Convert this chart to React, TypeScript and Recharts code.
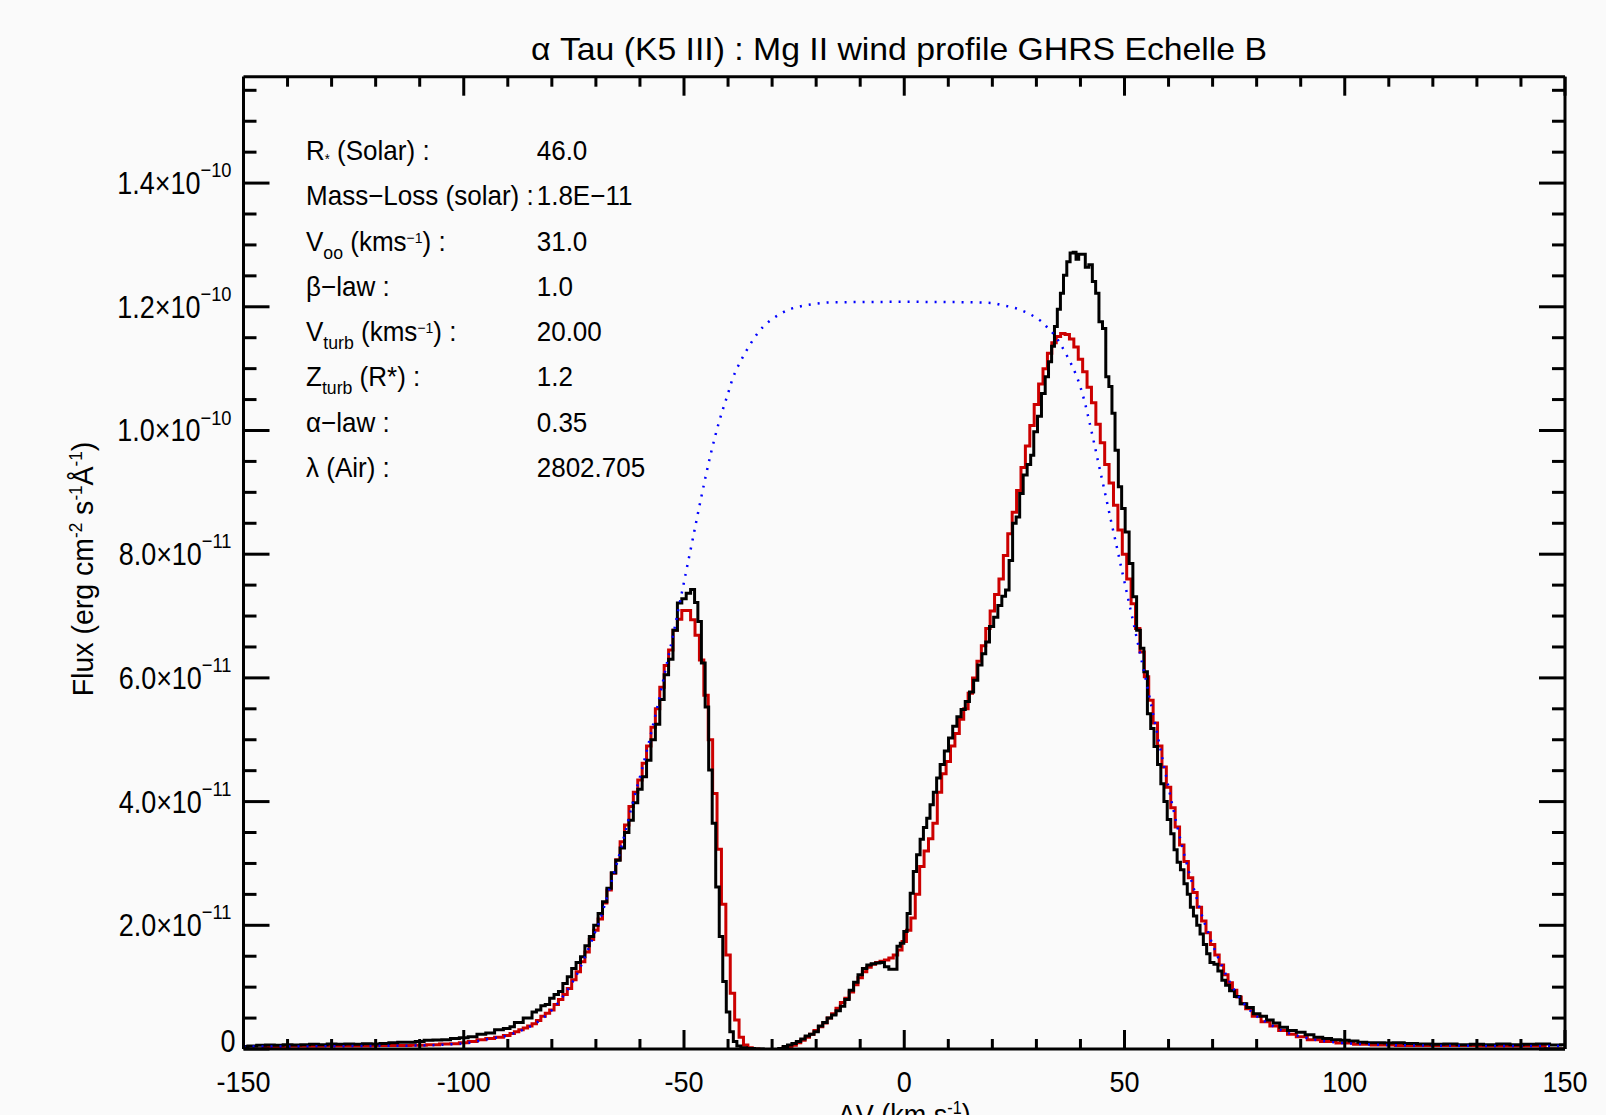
import React from "react";
import { LineChart, Line, XAxis, YAxis } from "recharts";

const FONT = "'Liberation Sans', Arial, Helvetica, sans-serif";
const W = 1606;
const H = 1115;
// frame of the plot in page pixels
const PLOT = { left: 243.5, right: 1565, top: 76.7, bottom: 1049 };
// flux is kept in units of 1e-11 erg cm-2 s-1 A-1
const Y_TOP = 15.72;
const AXIS_SIZE = 1; // axes need a non-zero box to be drawn

const X_MAJOR = [-150, -100, -50, 0, 50, 100, 150];
const X_MINOR = [-140, -130, -120, -110, -90, -80, -70, -60, -40, -30, -20, -10, 10, 20, 30, 40, 60, 70, 80, 90, 110, 120, 130, 140];
const Y_MAJOR = [0, 2, 4, 6, 8, 10, 12, 14];
const Y_MINOR = [0.5, 1, 1.5, 2.5, 3, 3.5, 4.5, 5, 5.5, 6.5, 7, 7.5, 8.5, 9, 9.5, 10.5, 11, 11.5, 12.5, 13, 13.5, 14.5, 15, 15.5];

const TITLE = "α Tau (K5 III) : Mg II wind profile GHRS Echelle B";
const PARAM_VALUES = ["46.0", "1.8E−11", "31.0", "1.0", "20.00", "1.2", "0.35", "2802.705"];

// observed GHRS profile [dV km/s, flux 1e-11]
const OBSERVED: [number, number][] = [
  [-150, 0.04], [-148, 0.05], [-146, 0.06], [-144, 0.065], [-142, 0.06], [-140, 0.07], [-138, 0.065], [-136, 0.07],
  [-134, 0.075], [-132, 0.07], [-130, 0.08], [-128, 0.075], [-126, 0.08], [-124, 0.075], [-122, 0.085], [-120, 0.08],
  [-118, 0.09], [-116, 0.1], [-114, 0.11], [-112, 0.11], [-110, 0.12], [-108, 0.14], [-106, 0.145], [-104, 0.15],
  [-102, 0.17], [-100, 0.18], [-98, 0.2], [-96, 0.24], [-94, 0.26], [-92, 0.31], [-90, 0.33], [-89, 0.36],
  [-88, 0.43], [-87, 0.43], [-86, 0.5], [-85, 0.5], [-84, 0.6], [-83, 0.63], [-82, 0.7], [-81, 0.72],
  [-80, 0.82], [-79, 0.88], [-78, 0.93], [-77, 1.06], [-76, 1.17], [-75, 1.3], [-74, 1.4], [-73, 1.49],
  [-72, 1.67], [-71, 1.82], [-70, 2.0], [-69, 2.19], [-68, 2.38], [-67, 2.6], [-66, 2.85], [-65, 3.05],
  [-64, 3.25], [-63, 3.5], [-62, 3.7], [-61, 3.98], [-60, 4.2], [-59, 4.4], [-58, 4.67], [-57, 5.0],
  [-56, 5.25], [-55, 5.65], [-54, 6.05], [-53, 6.3], [-52, 6.77], [-51, 7.21], [-50, 7.28], [-49, 7.37],
  [-48, 7.43], [-47.2, 7.22], [-46.5, 6.91], [-45.6, 6.24], [-44.8, 5.53], [-44, 4.51], [-43.2, 3.65], [-42.4, 2.62],
  [-41.6, 1.82], [-40.8, 1.09], [-40, 0.6], [-39.2, 0.28], [-38.4, 0.12], [-37.6, 0.05], [-36.6, 0.02], [-35, 0.01],
  [-33, 0], [-31, -0.02], [-29, -0.02], [-28, 0.01], [-27, 0.04], [-26, 0.065], [-25, 0.09], [-24, 0.12],
  [-23, 0.16], [-22, 0.21], [-21, 0.24], [-20, 0.28], [-19, 0.37], [-18, 0.43], [-17, 0.5], [-16, 0.55],
  [-15, 0.62], [-14, 0.69], [-13, 0.8], [-12, 0.95], [-11, 1.08], [-10, 1.2], [-9, 1.3], [-8, 1.36],
  [-7, 1.38], [-6, 1.39], [-5, 1.4], [-4, 1.33], [-3, 1.29], [-2, 1.29], [-1.3, 1.66], [-0.5, 1.71],
  [0.3, 1.9], [1, 2.19], [1.7, 2.52], [2.4, 2.87], [3.2, 3.14], [4, 3.39], [4.7, 3.58], [5.5, 3.73],
  [6.2, 3.95], [7, 4.15], [7.7, 4.38], [8.6, 4.6], [9.6, 4.82], [10.5, 5.03], [11.5, 5.22], [12.4, 5.37],
  [13.4, 5.49], [14.3, 5.62], [15.3, 5.77], [16.2, 5.96], [17.2, 6.21], [18.1, 6.39], [18.9, 6.58], [19.8, 6.83],
  [20.8, 6.98], [21.7, 7.17], [22.6, 7.32], [23.4, 7.42], [24.2, 7.9], [25, 8.5], [25.8, 8.6], [26.6, 8.98],
  [27.4, 9.28], [28.4, 9.45], [29, 9.6], [29.8, 9.98], [30.7, 10.23], [31.6, 10.6], [32.4, 10.87], [33.1, 11.11],
  [33.8, 11.36], [34.4, 11.68], [35.1, 11.96], [35.8, 12.22], [36.5, 12.51], [37.3, 12.73], [38, 12.87], [38.7, 12.88],
  [39.3, 12.77], [39.9, 12.85], [40.7, 12.85], [41.5, 12.64], [42.3, 12.68], [43.1, 12.41], [43.8, 12.22], [44.6, 11.76],
  [45.4, 11.65], [46.1, 10.87], [46.8, 10.71], [47.5, 10.28], [48.2, 9.68], [49, 9.09], [49.7, 8.74], [50.6, 8.36],
  [51.5, 7.85], [52.3, 7.31], [53.2, 6.77], [54, 6.48], [54.8, 6.1], [55.6, 5.42], [56.3, 5.18], [57.1, 4.89],
  [57.9, 4.6], [58.6, 4.29], [59.3, 4.0], [60.1, 3.71], [60.9, 3.48], [61.6, 3.22], [62.3, 3.02], [63.1, 2.9],
  [63.9, 2.67], [64.6, 2.5], [65.3, 2.29], [66, 2.15], [66.8, 2.0], [67.5, 1.86], [68.3, 1.69], [69, 1.54],
  [69.8, 1.4], [70.8, 1.37], [71.6, 1.26], [72.6, 1.11], [73.3, 1.03], [74.4, 0.94], [75.5, 0.85], [77, 0.73],
  [78.5, 0.67], [80, 0.57], [81.5, 0.53], [83, 0.47], [84.5, 0.42], [86, 0.35], [88, 0.3], [90, 0.27],
  [92, 0.23], [94, 0.19], [96, 0.17], [98, 0.15], [100, 0.14], [102, 0.13], [104, 0.11], [106, 0.1],
  [108, 0.1], [110, 0.095], [112, 0.1], [115, 0.09], [118, 0.08], [121, 0.075], [124, 0.08], [127, 0.07],
  [130, 0.075], [133, 0.07], [136, 0.08], [139, 0.07], [142, 0.075], [145, 0.08], [148, 0.065], [150, 0.07],
];

// wind model profile (red)
const MODEL: [number, number][] = [
  [-150, 0], [-148, 0], [-146, 0], [-145, 0.04], [-142, 0.04], [-138, 0.045], [-134, 0.045], [-130, 0.05],
  [-126, 0.05], [-122, 0.05], [-118, 0.055], [-114, 0.055], [-110, 0.06], [-107, 0.07], [-104, 0.08], [-102, 0.085],
  [-100, 0.1], [-98, 0.12], [-96, 0.15], [-94, 0.17], [-92, 0.19], [-90, 0.22], [-89, 0.25], [-88, 0.28],
  [-87, 0.31], [-86, 0.34], [-85, 0.37], [-84, 0.41], [-83, 0.46], [-82, 0.53], [-81, 0.58], [-80, 0.63],
  [-79, 0.72], [-78, 0.8], [-77, 0.88], [-76, 0.98], [-75, 1.12], [-74, 1.25], [-73, 1.41], [-72, 1.57],
  [-71, 1.77], [-70, 1.92], [-69, 2.1], [-68, 2.36], [-67, 2.57], [-66, 2.84], [-65, 3.06], [-64, 3.35],
  [-63, 3.62], [-62, 3.92], [-61, 4.15], [-60, 4.35], [-59, 4.62], [-58, 4.9], [-57, 5.2], [-56, 5.5],
  [-55, 5.85], [-54, 6.2], [-53, 6.45], [-52, 6.77], [-51, 6.95], [-50, 7.09], [-49, 7.09], [-48, 6.94],
  [-47, 6.69], [-46, 6.29], [-45, 5.72], [-44, 5.0], [-43, 4.13], [-42, 3.23], [-41, 2.34], [-40, 1.52],
  [-39, 0.9], [-38, 0.47], [-37, 0.19], [-36, 0.065], [-35, 0.02], [-34, 0], [-32, -0.01], [-30, -0.015],
  [-28, -0.01], [-27, 0.02], [-26, 0.03], [-25, 0.06], [-24, 0.1], [-23, 0.14], [-22, 0.19], [-21, 0.24],
  [-20, 0.3], [-19, 0.36], [-18, 0.42], [-17, 0.5], [-16, 0.57], [-15, 0.66], [-14, 0.75], [-13, 0.82],
  [-12, 0.92], [-11, 1.04], [-10, 1.15], [-9, 1.25], [-8, 1.32], [-7, 1.37], [-6, 1.4], [-5, 1.42],
  [-4, 1.44], [-3, 1.47], [-2, 1.52], [-1, 1.6], [0, 1.74], [1, 1.92], [2, 2.12], [3, 2.5],
  [4, 2.95], [5, 3.2], [6, 3.4], [7, 3.65], [8, 4.15], [9, 4.45], [10, 4.65], [11, 4.9],
  [12, 5.1], [13, 5.33], [14, 5.5], [15, 5.75], [16, 6.0], [17, 6.27], [18, 6.52], [19, 6.8],
  [20, 7.08], [21, 7.35], [22, 7.6], [23, 7.98], [24, 8.33], [25, 8.68], [26, 9.03], [27, 9.4],
  [28, 9.75], [29, 10.08], [30, 10.42], [31, 10.75], [32, 11.0], [33, 11.25], [34, 11.42], [35, 11.52],
  [36, 11.57], [37, 11.55], [38, 11.48], [39, 11.35], [40, 11.15], [41, 10.95], [42, 10.7], [43, 10.45],
  [44, 10.1], [45, 9.8], [46, 9.45], [47, 9.15], [48, 8.79], [49, 8.39], [50, 8.0], [51, 7.6],
  [52, 7.2], [53, 6.8], [54, 6.42], [55, 6.02], [56, 5.64], [57, 5.27], [58, 4.9], [59, 4.56],
  [60, 4.23], [61, 3.9], [62, 3.59], [63, 3.3], [64, 3.03], [65, 2.77], [66, 2.53], [67, 2.29],
  [68, 2.07], [69, 1.88], [70, 1.69], [71, 1.52], [72, 1.36], [73, 1.2], [74, 1.07], [75, 0.95],
  [76, 0.84], [77, 0.73], [78, 0.65], [80, 0.53], [82, 0.44], [84, 0.37], [86, 0.3], [88, 0.24],
  [90, 0.2], [93, 0.15], [96, 0.12], [100, 0.095], [104, 0.075], [108, 0.065], [115, 0.055], [125, 0.055],
  [135, 0.05], [145, 0.05], [146, 0], [150, 0],
];

// intrinsic (unabsorbed) profile, blue dotted
const INTRINSIC: [number, number][] = [
  [-150, 0.04], [-140, 0.04], [-130, 0.045], [-120, 0.05], [-112, 0.055], [-106, 0.065], [-102, 0.08], [-99, 0.1],
  [-96, 0.14], [-93, 0.18], [-90, 0.22], [-88, 0.27], [-86, 0.33], [-84, 0.4], [-82, 0.5], [-80, 0.63],
  [-78, 0.8], [-76, 1.0], [-74, 1.25], [-72, 1.57], [-71, 1.74], [-70, 1.92], [-69, 2.1], [-68, 2.33],
  [-67, 2.57], [-66, 2.82], [-65, 3.06], [-64, 3.33], [-63, 3.6], [-62, 3.88], [-61, 4.15], [-60, 4.4],
  [-59, 4.67], [-58, 4.95], [-57, 5.25], [-56, 5.55], [-55, 5.87], [-54, 6.2], [-53, 6.52], [-52, 6.85],
  [-51, 7.2], [-50, 7.55], [-49, 7.9], [-48, 8.25], [-46, 8.95], [-44, 9.6], [-42, 10.15], [-40, 10.6],
  [-39, 10.83], [-38, 11.0], [-37, 11.14], [-36, 11.27], [-35, 11.39], [-34, 11.5], [-33, 11.6], [-32, 11.68],
  [-30, 11.8], [-28, 11.89], [-26, 11.96], [-24, 12.0], [-22, 12.03], [-20, 12.05], [-17, 12.07], [0, 12.08],
  [17, 12.07], [20, 12.06], [22, 12.03], [24, 12.0], [26, 11.96], [28, 11.9], [30, 11.82], [31, 11.77],
  [32, 11.7], [33, 11.63], [34, 11.55], [35, 11.45], [36, 11.33], [37, 11.2], [38, 11.06], [39, 10.9],
  [40, 10.7], [41, 10.45], [42, 10.15], [43, 9.83], [44, 9.5], [45, 9.18], [46, 8.85], [47, 8.52],
  [48, 8.2], [49, 7.87], [50, 7.55], [51, 7.22], [52, 6.9], [53, 6.57], [54, 6.24], [55, 5.92],
  [56, 5.58], [57, 5.25], [58, 4.9], [59, 4.56], [60, 4.23], [61, 3.9], [62, 3.59], [63, 3.3],
  [64, 3.03], [65, 2.77], [66, 2.53], [67, 2.29], [68, 2.07], [69, 1.88], [70, 1.69], [72, 1.36],
  [74, 1.07], [76, 0.84], [78, 0.66], [80, 0.53], [82, 0.44], [84, 0.36], [86, 0.29], [88, 0.24],
  [90, 0.2], [94, 0.14], [98, 0.105], [104, 0.08], [110, 0.065], [120, 0.055], [135, 0.05], [150, 0.05],
];

const toRows = (pts: [number, number][]) => pts.map(([v, f]) => ({ v, f }));
const observedData = toRows(OBSERVED);
const modelData = toRows(MODEL);
const intrinsicData = toRows(INTRINSIC);

const X_TICKS = [...X_MAJOR, ...X_MINOR].sort((a, b) => a - b);
const Y_TICKS = [...Y_MAJOR, ...Y_MINOR].sort((a, b) => a - b);

type TickProps = { x?: number; y?: number; payload?: { value: number } };

function BottomTick({ x = 0, y = 0, payload }: TickProps) {
  const v = payload?.value ?? 0;
  const major = X_MAJOR.includes(v);
  return (
    <g>
      <line x1={x} x2={x} y1={y} y2={y - (major ? 19 : 10)} stroke="#000" strokeWidth={3} />
      {major && (
        <text
          transform={`translate(${x},${y + 43}) scale(0.9,1)`}
          textAnchor="middle"
          fontSize={30}
          fontFamily={FONT}
          fill="#000"
        >
          {String(v)}
        </text>
      )}
    </g>
  );
}

function TopTick({ x = 0, y = 0, payload }: TickProps) {
  const major = X_MAJOR.includes(payload?.value ?? 0);
  return <line x1={x} x2={x} y1={y} y2={y + (major ? 19 : 10)} stroke="#000" strokeWidth={3} />;
}

function LeftTick({ x = 0, y = 0, payload }: TickProps) {
  const v = payload?.value ?? 0;
  const major = Y_MAJOR.includes(v);
  let label: React.ReactNode = null;
  if (major && v === 0) {
    label = (
      <text
        transform={`translate(${x - 8},${y + 3}) scale(0.87,1)`}
        textAnchor="end"
        fontSize={31}
        fontFamily={FONT}
        fill="#000"
      >
        0
      </text>
    );
  } else if (major) {
    const mant = v >= 10 ? (v / 10).toFixed(1) : v.toFixed(1);
    const exp = v >= 10 ? "−10" : "−11";
    label = (
      <text
        transform={`translate(${x - 12},${y + 11}) scale(0.87,1)`}
        textAnchor="end"
        fontSize={31}
        fontFamily={FONT}
        fill="#000"
      >
        {`${mant}×10`}
        <tspan fontSize={21} dy={-17}>
          {exp}
        </tspan>
      </text>
    );
  }
  return (
    <g>
      <line x1={x} x2={x + (major ? 26 : 13)} y1={y} y2={y} stroke="#000" strokeWidth={3} />
      {label}
    </g>
  );
}

function RightTick({ x = 0, y = 0, payload }: TickProps) {
  const major = Y_MAJOR.includes(payload?.value ?? 0);
  return <line x1={x} x2={x - (major ? 26 : 13)} y1={y} y2={y} stroke="#000" strokeWidth={3} />;
}

const SUB = 19;
const SUP = 15;

function paramLabel(i: number) {
  switch (i) {
    case 0:
      return (
        <>
          R<tspan fontSize={14} dy={4}>*</tspan>
          <tspan dy={-4}> (Solar) :</tspan>
        </>
      );
    case 1:
      return "Mass−Loss (solar) :";
    case 2:
      return (
        <>
          V<tspan fontSize={SUB} dy={8}>oo</tspan>
          <tspan dy={-8}> (kms</tspan>
          <tspan fontSize={SUP} dy={-8}>−1</tspan>
          <tspan dy={8}>) :</tspan>
        </>
      );
    case 3:
      return "β−law :";
    case 4:
      return (
        <>
          V<tspan fontSize={SUB} dy={8}>turb</tspan>
          <tspan dy={-8}> (kms</tspan>
          <tspan fontSize={SUP} dy={-8}>−1</tspan>
          <tspan dy={8}>) :</tspan>
        </>
      );
    case 5:
      return (
        <>
          Z<tspan fontSize={SUB} dy={8}>turb</tspan>
          <tspan dy={-8}> (R*) :</tspan>
        </>
      );
    case 6:
      return "α−law :";
    default:
      return "λ (Air) :";
  }
}

function Overlay() {
  return (
    <svg
      width={W}
      height={H}
      style={{ position: "absolute", left: 0, top: 0, pointerEvents: "none" }}
      fontFamily={FONT}
      fill="#000"
    >
      <text x={899} y={59.5} textAnchor="middle" fontSize={32} textLength={736} lengthAdjust="spacingAndGlyphs">
        {TITLE}
      </text>

      {PARAM_VALUES.map((val, i) => {
        const y = 160 + i * 45.25;
        return (
          <g key={i} fontSize={28}>
            <text transform={`translate(306,${y}) scale(0.93,1)`}>{paramLabel(i)}</text>
            <text transform={`translate(536.7,${y}) scale(0.93,1)`}>{val}</text>
          </g>
        );
      })}

      <text transform="translate(93,569) rotate(-90) scale(0.95,1)" textAnchor="middle" fontSize={30}>
        Flux (erg cm
        <tspan fontSize={18} dy={-11}>-2</tspan>
        <tspan dy={11}> s</tspan>
        <tspan fontSize={18} dy={-11}>-1</tspan>
        <tspan dy={11}>Å</tspan>
        <tspan fontSize={18} dy={-11}>-1</tspan>
        <tspan dy={11}>)</tspan>
      </text>

      <text transform={`translate(${(PLOT.left + PLOT.right) / 2},1125) scale(0.9,1)`} textAnchor="middle" fontSize={30}>
        ΔV (km s<tspan fontSize={18} dy={-11}>-1</tspan>
        <tspan dy={11}>)</tspan>
      </text>
    </svg>
  );
}

export default function App() {
  const frame = { stroke: "#000", strokeWidth: 3 };
  return (
    <div style={{ position: "absolute", left: 0, top: 0, width: W, height: H, background: "#fafafa" }}>
      <LineChart
        width={W}
        height={H}
        margin={{
          top: PLOT.top - AXIS_SIZE,
          right: W - PLOT.right - AXIS_SIZE,
          bottom: H - PLOT.bottom - AXIS_SIZE,
          left: PLOT.left - AXIS_SIZE,
        }}
      >
        <XAxis
          dataKey="v"
          type="number"
          domain={[-150, 150]}
          allowDataOverflow
          ticks={X_TICKS}
          interval={0}
          height={AXIS_SIZE}
          tickSize={0}
          tickMargin={0}
          tickLine={false}
          axisLine={frame}
          tick={(p: TickProps) => <BottomTick {...p} />}
        />
        <XAxis
          xAxisId="top"
          orientation="top"
          dataKey="v"
          type="number"
          domain={[-150, 150]}
          allowDataOverflow
          ticks={X_TICKS}
          interval={0}
          height={AXIS_SIZE}
          tickSize={0}
          tickMargin={0}
          tickLine={false}
          axisLine={frame}
          tick={(p: TickProps) => <TopTick {...p} />}
        />
        <YAxis
          type="number"
          domain={[0, Y_TOP]}
          allowDataOverflow
          ticks={Y_TICKS}
          interval={0}
          width={AXIS_SIZE}
          tickSize={0}
          tickMargin={0}
          tickLine={false}
          axisLine={frame}
          tick={(p: TickProps) => <LeftTick {...p} />}
        />
        <YAxis
          yAxisId="right"
          orientation="right"
          type="number"
          domain={[0, Y_TOP]}
          allowDataOverflow
          ticks={Y_TICKS}
          interval={0}
          width={AXIS_SIZE}
          tickSize={0}
          tickMargin={0}
          tickLine={false}
          axisLine={frame}
          tick={(p: TickProps) => <RightTick {...p} />}
        />

        {/* keeps the mirrored top/right axes populated */}
        <Line
          xAxisId="top"
          yAxisId="right"
          data={intrinsicData}
          dataKey="f"
          stroke="none"
          dot={false}
          activeDot={false}
          isAnimationActive={false}
        />
        <Line
          data={modelData}
          dataKey="f"
          type="step"
          stroke="#cc0000"
          strokeWidth={3}
          dot={false}
          activeDot={false}
          isAnimationActive={false}
        />
        <Line
          data={observedData}
          dataKey="f"
          type="step"
          stroke="#000"
          strokeWidth={3}
          dot={false}
          activeDot={false}
          isAnimationActive={false}
        />
        <Line
          data={intrinsicData}
          dataKey="f"
          type="monotone"
          stroke="#0000ff"
          strokeWidth={2.5}
          strokeDasharray="2 7"
          dot={false}
          activeDot={false}
          isAnimationActive={false}
        />
      </LineChart>
      <Overlay />
    </div>
  );
}
